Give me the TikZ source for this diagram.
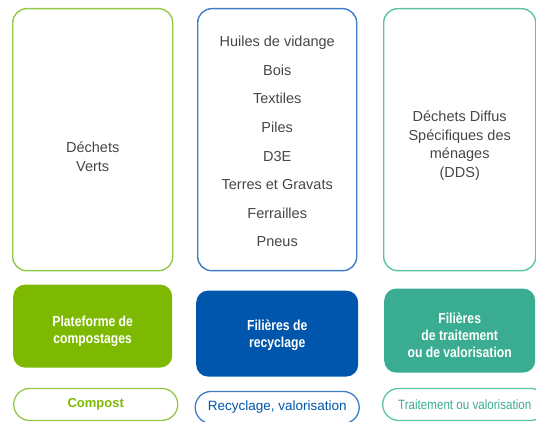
\documentclass[tikz,border=0pt]{standalone}
\usepackage{fontspec}
\setmainfont{Liberation Sans}
\newfontfamily\condfont[FakeStretch=0.84]{Liberation Sans}
\newfontfamily\narrowfont[FakeStretch=0.86]{Liberation Sans}
\usepackage{tikz}
\usetikzlibrary{positioning}
\definecolor{textgray}{RGB}{70,70,70}
\definecolor{vertclair}{RGB}{145,200,70}
\definecolor{vertfonce}{RGB}{125,185,0}
\definecolor{bleuclair}{RGB}{62,124,200}
\definecolor{bleufonce}{RGB}{0,85,172}
\definecolor{turquoiseclair}{RGB}{92,196,166}
\definecolor{turquoisefonce}{RGB}{58,172,146}
\tikzstyle{box} = [rectangle, align=center, inner sep=2pt]
\tikzstyle{texte} = [box, text=textgray, font=\fontsize{14.5}{18.6}\selectfont]
\tikzstyle{gisement} = [box, draw, line width=1.4pt, rounded corners=14pt, minimum height=262pt]
\tikzstyle{filiere} = [box, rounded corners=12pt]
\tikzstyle{blanc} = [box, text=white, font=\condfont\bfseries\fontsize{14.5}{17}\selectfont]
\tikzstyle{issue} = [box, draw, line width=1.3pt, rounded corners=16pt, minimum width=164pt, minimum height=32pt]

\begin{document}
\begin{tikzpicture}[x=1pt, y=1pt, node distance=25pt]
    \useasboundingbox (0,0) rectangle (536,421);
    \clip (0,0) rectangle (536,421);

    % Gisements.
    \node (verts) [gisement, draw=vertclair, minimum width=160pt, anchor=north west] at (12,413) {};
    \node (divers) [gisement, draw=bleuclair, minimum width=159pt, right=23.6pt of verts] {};
    \node (dds) [gisement, draw=turquoiseclair, minimum width=152pt, right=25.6pt of divers] {};
    \node (verts texte) [texte, yshift=-17pt] at (verts) {Déchets\\Verts};
    \node (divers texte) [texte, yshift=-2pt, font=\fontsize{14.5}{28.6}\selectfont] at (divers)
        {Huiles de vidange\\Bois\\Textiles\\Piles\\D3E\\Terres et Gravats\\Ferrailles\\Pneus};
    \node (dds texte) [texte, yshift=-6pt] at (dds) {Déchets Diffus\\Spécifiques des\\ménages\\(DDS)};

    % Filières.
    \node (compostage) [filiere, fill=vertfonce, minimum width=159pt, minimum height=83pt, below=13pt of verts] {};
    \node (recyclage) [filiere, fill=bleufonce, minimum width=162pt, minimum height=86pt, below=19pt of divers] {};
    \node (traitement) [filiere, fill=turquoisefonce, minimum width=151pt, minimum height=84pt, below=17pt of dds] {};
    \node (compostage texte) [blanc, yshift=-5pt] at (compostage) {Plateforme de\\compostages};
    \node (recyclage texte) [blanc, yshift=-2pt] at (recyclage) {Filières de\\recyclage};
    \node (traitement texte) [blanc, yshift=-5pt] at (traitement) {Filières\\de traitement\\ou de valorisation};

    % Issues.
    \node (compost) [issue, draw=vertclair, text=vertfonce, font=\bfseries\fontsize{13}{15}\selectfont, below=20pt of compostage, xshift=3pt] {Compost};
    \node (valorisation) [issue, draw=bleuclair, text=bleufonce, font=\fontsize{13.5}{15}\selectfont, below=14pt of recyclage] {Recyclage, valorisation};
    \node (traitement issue) [issue, draw=turquoiseclair, text=turquoisefonce, font=\narrowfont\fontsize{13.5}{15}\selectfont, below=15pt of traitement, xshift=5pt] {Traitement ou valorisation};
\end{tikzpicture}
\end{document}
